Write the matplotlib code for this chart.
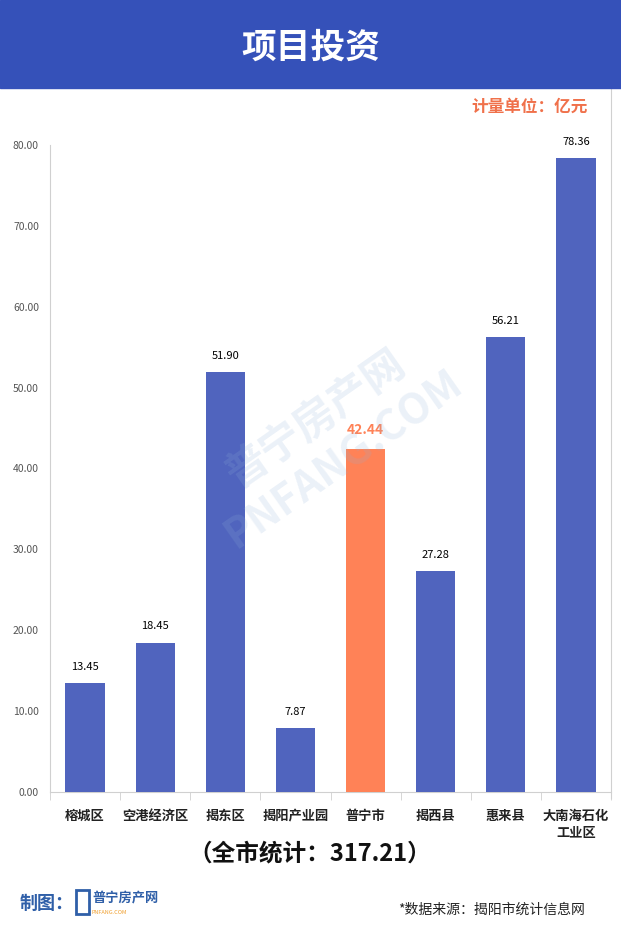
import matplotlib.pyplot as plt
from matplotlib.patches import Rectangle

plt.rcParams["font.family"] = ["Noto Sans CJK SC", "DejaVu Sans"]

regions = ["榕城区", "空港经济区", "揭东区", "揭阳产业园", "普宁市", "揭西县", "惠来县", "大南海石化\n工业区"]
invest = [13.45, 18.45, 51.90, 7.87, 42.44, 27.28, 56.21, 78.36]
highlight = "普宁市"
total = 317.21

blue = "#5064be"
orange = "#ff8257"

W, H = 621, 936
fig = plt.figure(figsize=(W / 100, H / 100), dpi=100)

def fx(px):
    return px / W

def fy(py):
    return 1 - py / H

# header band
fig.patches.append(Rectangle((0, fy(88)), 1, 88 / H, transform=fig.transFigure,
                             color="#3551b9", zorder=0))
fig.text(0.5, fy(47), "项目投资", color="white", fontsize=25, fontweight="bold",
         ha="center", va="center")
fig.text(fx(588), fy(107), "计量单位：亿元", color="#f0714b", fontsize=12,
         fontweight="bold", ha="right", va="center")

ax = fig.add_axes([fx(50), fy(792), fx(611) - fx(50), fy(145) - fy(792)])
x = range(len(regions))
colors = [orange if r == highlight else blue for r in regions]
ax.bar(x, invest, width=0.56, color=colors, zorder=3)
for i, v in enumerate(invest):
    hl = regions[i] == highlight
    ax.text(i, v + 1.4, f"{v:.2f}", ha="center", va="bottom",
            fontsize=10 if hl else 8, color=orange if hl else "black",
            fontweight="bold" if hl else "normal")

ax.set_xlim(-0.5, len(regions) - 0.5)
ax.set_ylim(0, 80)
ax.set_yticks(range(0, 81, 10))
ax.set_yticklabels([f"{t:.2f}" for t in range(0, 81, 10)], fontsize=7.5, color="#555555")
ax.set_xticks(list(x))
ax.set_xticklabels(regions, fontsize=9.5, fontweight="bold", color="#222222",
                   linespacing=1.3, va="top")
ax.tick_params(axis="y", length=0, pad=8)
ax.tick_params(axis="x", length=0, pad=12)
# separators between categories
ax.set_xticks([i + 0.5 for i in range(-1, len(regions))], minor=True)
ax.tick_params(axis="x", which="minor", length=6, color="#d0d0d0")
ax.spines["top"].set_visible(False)
ax.spines["left"].set_color("#d0d0d0")
ax.spines["bottom"].set_color("#d0d0d0")
ax.spines["right"].set_color("#d0d0d0")
ax.spines["right"].set_bounds(-0.7, 87)
ax.spines["right"].set_clip_on(False)

# faint watermark
fig.text(fx(330), fy(440), "普宁房产网\nPNFANG.COM", fontsize=30, fontweight="bold",
         color="#8fb0d8", alpha=0.18, rotation=35, ha="center", va="center")

fig.text(fx(310), fy(853), f"（全市统计：{total:.2f}）",
         fontsize=17, fontweight="bold", ha="center", va="center", color="#111111")

fig.text(fx(20), fy(903), "制图：", fontsize=13, fontweight="bold", color="#2f5fa8",
         ha="left", va="center")
fig.text(fx(92), fy(898), "普宁房产网", fontsize=9.5, fontweight="bold", color="#2f5fa8",
         ha="left", va="center")
fig.text(fx(92), fy(912), "PNFANG.COM", fontsize=4, color="#f0a030", ha="left", va="center")
fig.patches.append(Rectangle((fx(76), fy(914)), 13 / W, 24 / H, transform=fig.transFigure,
                             fill=False, edgecolor="#2f5fa8", linewidth=2))
fig.text(fx(585), fy(910), "*数据来源：揭阳市统计信息网", fontsize=10, color="#222222",
         ha="right", va="center")

fig.savefig("out.png", dpi=100)
